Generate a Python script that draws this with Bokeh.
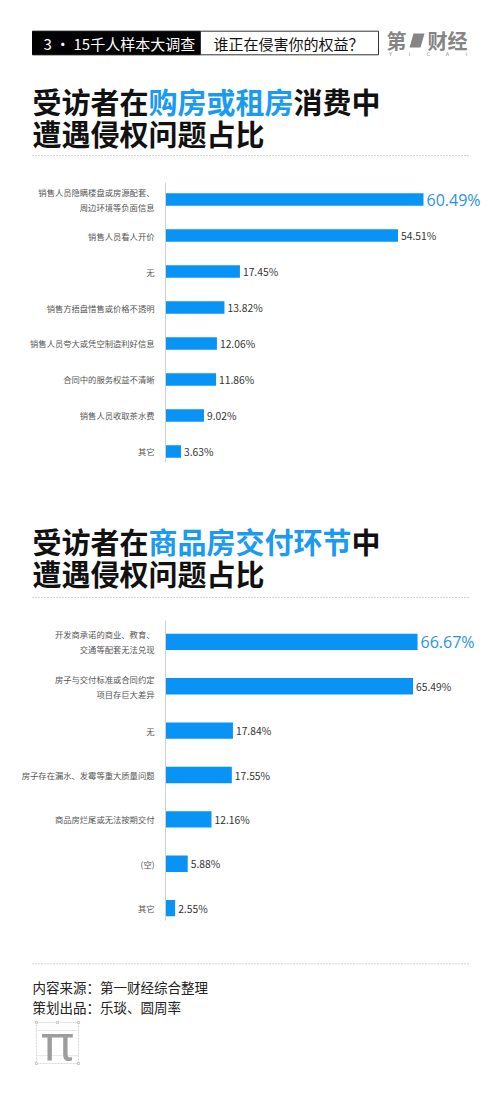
import numpy as np
from bokeh.plotting import figure
from bokeh.layouts import column
from bokeh.models import ColumnDataSource, FactorRange, Range1d
from bokeh.core.properties import value
from bokeh.embed import file_html
from bokeh.resources import INLINE

# ---------------- data ----------------
header_left = "3 · 15千人样本大调查"
header_right = "谁正在侵害你的权益？"
title1_parts = ["受访者在", "购房或租房", "消费中"]
title2_parts = ["受访者在", "商品房交付环节", "中"]
title_line2 = "遭遇侵权问题占比"

cats1 = ["销售人员隐瞒楼盘或房源配套、\n周边环境等负面信息", "销售人员看人开价", "无",
         "销售方捂盘惜售或价格不透明", "销售人员夸大或凭空制造利好信息",
         "合同中的服务权益不清晰", "销售人员收取茶水费", "其它"]
vals1 = [60.49, 54.51, 17.45, 13.82, 12.06, 11.86, 9.02, 3.63]

cats2 = ["开发商承诺的商业、教育、\n交通等配套无法兑现", "房子与交付标准或合同约定\n项目存巨大差异", "无",
         "房子存在漏水、发霉等重大质量问题", "商品房烂尾或无法按期交付", "(空)", "其它"]
vals2 = [66.67, 65.49, 17.84, 17.55, 12.16, 5.88, 2.55]

credit_lines = ["内容来源：第一财经综合整理", "策划出品：乐琰、圆周率"]
logo_letters = ["Y", "I", "C", "A", "I"]

# ---------------- style ----------------
W = 500
CJK = "Noto Sans CJK SC"
BLUE_T = "#1a9af0"
BAR = "#0993f5"
VAL_BLUE = "#2a93e0"
DARK = "#111111"
GRAY_LBL = "#555555"


def base_fig(h, x_range, y_range):
    p = figure(width=W, height=h, x_range=x_range, y_range=y_range,
               output_backend="svg", toolbar_location=None,
               x_axis_location=None, y_axis_location=None,
               min_border=0, outline_line_color=None)
    p.grid.visible = False
    p.background_fill_color = "white"
    p.border_fill_color = "white"
    return p


def px_fig(h):
    return base_fig(h, Range1d(0, W), Range1d(h, 0))


def draw_title(p, parts, y1, y2, dotted_y, fs=29):
    colors = [DARK, BLUE_T, DARK]
    x = 32
    for part, c in zip(parts, colors):
        p.text(x=[x], y=[y1], text=[part], text_font=value(CJK), text_font_style="bold",
               text_font_size=f"{fs}px", text_color=c, text_baseline="middle", text_align="left")
        x += len(part) * fs
    p.text(x=[32], y=[y2], text=[title_line2], text_font=value(CJK), text_font_style="bold",
           text_font_size=f"{fs}px", text_color=DARK, text_baseline="middle", text_align="left")
    p.segment(x0=[32], x1=[468], y0=[dotted_y], y1=[dotted_y], line_color="#a8a8a8",
              line_width=1, line_dash="1 2")


# ---------------- figure A: header + title 1 ----------------
pa = px_fig(175)
pa.quad(left=[32], right=[200], top=[30.7], bottom=[54.3], fill_color="black", line_color="black")
pa.quad(left=[200], right=[378], top=[30.7], bottom=[54.3], fill_color="white", line_color="#333333", line_width=1)
pa.text(x=[43], y=[42.8], text=[header_left], text_font=value(CJK), text_font_size="15px",
        text_color="white", text_baseline="middle")
pa.text(x=[213], y=[42.8], text=[header_right], text_font=value(CJK), text_font_size="15px",
        text_color="#111111", text_baseline="middle")
# logo
pa.text(x=[386], y=[40], text=["第"], text_font=value(CJK), text_font_style="bold",
        text_font_size="20px", text_color="#858585", text_baseline="middle")
pa.patch(x=[409, 413, 424, 420], y=[47, 33, 33, 47], fill_color="#858585", line_color=None)
pa.text(x=[427], y=[40], text=["财经"], text_font=value(CJK), text_font_style="bold",
        text_font_size="20px", text_color="#858585", text_baseline="middle")
pa.text(x=[390, 409, 428, 447, 466], y=[53] * 5, text=logo_letters, text_font=value("DejaVu Sans"),
        text_font_size="5px", text_color="#8a8a8a", text_baseline="middle", text_align="center")
draw_title(pa, title1_parts, 100, 132, 155)


# ---------------- bar chart helper ----------------
def bar_fig(cats, vals, h, k, pad, bar_h, top_off, bot_off):
    x_range = Range1d(-165 / k, (W - 165) / k)
    y_range = FactorRange(factors=list(reversed(cats)), range_padding=pad,
                          range_padding_units="absolute")
    p = base_fig(h, x_range, y_range)
    src = ColumnDataSource(dict(
        cat=cats, val=vals,
        lbl=[f"{v:.2f}%" for v in vals],
        lx=[v + 3 / k for v in vals],
    ))
    p.hbar(y="cat", left=0, right="val", height=bar_h, source=src, fill_color=BAR, line_color=None)
    # axis line
    p.segment(x0=[0], x1=[0], y0=[(cats[0], top_off)], y1=[(cats[-1], -bot_off)],
              line_color="#cfcfcf", line_width=1)
    # category labels
    p.text(x=-11 / k, y="cat", text="cat", source=src, text_font=value(CJK),
           text_font_size="8.3px", text_color=GRAY_LBL, text_align="right",
           text_baseline="middle", text_line_height=1.25)
    # value labels: highlight top one
    top = ColumnDataSource(dict(cat=cats[:1], lbl=src.data["lbl"][:1], lx=src.data["lx"][:1]))
    rest = ColumnDataSource(dict(cat=cats[1:], lbl=src.data["lbl"][1:], lx=src.data["lx"][1:]))
    p.text(x="lx", y="cat", text="lbl", source=top, text_font=value("Open Sans"),
           text_font_size="16px", text_color=VAL_BLUE, text_align="left", text_baseline="middle")
    p.text(x="lx", y="cat", text="lbl", source=rest, text_font=value(CJK),
           text_font_size="10.3px", text_color="#333333", text_align="left", text_baseline="middle")
    return p


pb = bar_fig(cats1, vals1, 300, 4.265, 0.1667, 0.353, 0.46, 0.30)

# ---------------- figure C: title 2 ----------------
pc = px_fig(140)
draw_title(pc, title2_parts, 65, 97, 122)

# ---------------- figure D: chart 2 ----------------
pd_ = bar_fig(cats2, vals2, 319, 3.78, 0.095, 0.37, 0.48, 0.28)

# ---------------- figure E: footer ----------------
pe = px_fig(172)
pe.segment(x0=[32], x1=[468], y0=[29.3], y1=[29.3], line_color="#a8a8a8", line_width=1, line_dash="1 2")
pe.text(x=[32, 32], y=[52.7, 72.7], text=credit_lines, text_font=value(CJK),
        text_font_size="13.5px", text_color="#222222", text_baseline="middle")
# pi logo
pe.quad(left=[36], right=[78], top=[88], bottom=[129], fill_color=None, line_color="#c8c8c8",
        line_width=0.7, line_dash="2 1")
pe.segment(x0=[36, 36], x1=[78, 78], y0=[96, 121], y1=[96, 121], line_color="#d5d5d5", line_width=0.5)
pe.rect(x=[36, 78, 36, 78, 57], y=[88, 88, 129, 129, 88], width=2, height=2,
        fill_color="white", line_color="#aaaaaa", line_width=0.6)
pe.text(x=[57], y=[107], text=["π"], text_font=value("Noto Sans"),
        text_font_size="50px", text_color="#9d9d9d", text_align="center", text_baseline="middle")

layout = column(pa, pb, pc, pd_, pe, spacing=0)

open("out.html", "w").write(file_html(layout, INLINE))
